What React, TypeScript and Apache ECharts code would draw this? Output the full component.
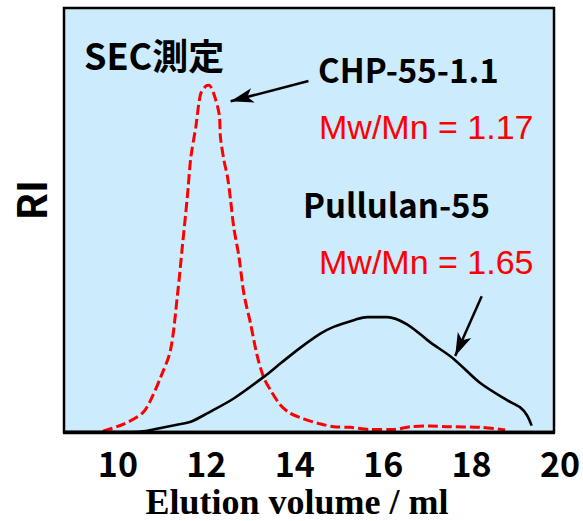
import React, { useEffect, useRef } from "react";
import * as echarts from "echarts";

// tick labels of the elution-volume axis
const xTicks = [10, 12, 14, 16, 18, 20];

// CHP-55-1.1 (red dashed) — elution volume (ml) / RI response
const chpX = [9.66, 10.14, 10.56, 10.74, 10.97, 11.19, 11.35, 11.46, 11.57, 11.65, 11.76, 11.87, 11.99, 12.06, 12.17, 12.29, 12.32, 12.4, 12.48, 12.55, 12.62, 12.74, 12.85, 13.0, 13.15, 13.3, 13.45, 13.68, 13.9, 14.2, 14.54, 14.88, 15.26, 15.71, 16.24, 16.61, 17.06, 17.44, 18.19, 18.76];
const chpY = [0.2, 1.9, 4.5, 7.5, 13.0, 19.3, 32.6, 44.0, 55.4, 64.8, 71.8, 79.7, 81.6, 81.8, 79.7, 75.0, 69.5, 64.0, 60.1, 54.6, 48.3, 41.2, 32.6, 25.6, 18.0, 12.8, 9.9, 6.3, 4.4, 3.1, 2.0, 1.25, 1.1, 0.6, 0.6, 1.25, 1.4, 1.25, 1.1, 0.5];

// Pullulan-55 (black solid)
const pulX = [8.78, 10.29, 10.67, 11.08, 11.42, 11.65, 12.02, 12.62, 13.3, 13.68, 14.13, 14.58, 14.88, 15.37, 15.64, 16.09, 16.54, 17.06, 17.59, 18.19, 18.8, 19.1, 19.25, 19.36];
const pulY = [0, 0, 0.3, 1.2, 1.9, 2.4, 4.4, 7.9, 13.0, 16.2, 19.9, 23.2, 24.8, 26.5, 27.1, 27.1, 25.4, 21.2, 17.3, 11.6, 7.5, 5.8, 4.0, 1.5];

// annotation arrows: [fromX, fromY, toX, toY] in data units
const chpArrow = [14.31, 82.8, 12.55, 78.0];
const pulArrow = [18.23, 32.0, 17.63, 17.9];

const BOLD_FONT = "'Noto Sans CJK JP', 'Noto Sans', sans-serif";
const SANS_FONT = "'Liberation Sans', Arial, sans-serif";

function arrowLine(a: number[]) {
  return [
    [
      { coord: [a[0], a[1]], symbol: "none" },
      { coord: [a[2], a[3]], symbol: "arrow", symbolSize: [11, 23] },
    ],
  ];
}

export default function App() {
  const ref = useRef<HTMLDivElement>(null);
  useEffect(() => {
    if (!ref.current) return;
    const chart = echarts.init(ref.current, undefined, { renderer: "svg" });
    const L = 64, T = 8, R = 554, B = 432;
    const option: any = {
      animation: false,
      grid: { left: L, top: T, right: 583 - 560, bottom: 521 - B },
      xAxis: {
        type: "value",
        min: 8.78,
        max: 20,
        axisLine: { show: false },
        axisTick: { show: false },
        splitLine: { show: false },
        axisLabel: {
          customValues: xTicks,
          margin: 13,
          fontSize: 34,
          fontWeight: "bold",
          fontFamily: BOLD_FONT,
          color: "#000",
        },
      },
      yAxis: {
        type: "value",
        min: 0,
        max: 100,
        axisLine: { show: false },
        axisTick: { show: false },
        axisLabel: { show: false },
        splitLine: { show: false },
      },
      graphic: [
        { type: "rect", z: -10, shape: { x: L, y: T, width: R - L, height: B - T }, style: { fill: "#CCEBFC" } },
        { type: "rect", z: 100, shape: { x: L, y: T, width: R - L, height: B - T }, style: { fill: "none", stroke: "#000", lineWidth: 2.5 } },
        { type: "line", z: 100, shape: { x1: L - 1, y1: B + 0.5, x2: R + 1, y2: B + 0.5 }, style: { stroke: "#000", lineWidth: 3.5 } },
        { type: "text", z: 100, x: 84, y: 54, style: { text: "SEC測定", fill: "#000", fontSize: 36, fontWeight: "bold", fontFamily: BOLD_FONT, align: "left", verticalAlign: "middle" } },
        { type: "text", z: 100, x: 318, y: 69, style: { text: "CHP-55-1.1", fill: "#000", fontSize: 33, fontWeight: "bold", fontFamily: BOLD_FONT, align: "left", verticalAlign: "middle" } },
        { type: "text", z: 100, x: 319, y: 127, style: { text: "Mw/Mn = 1.17", fill: "#ff0000", fontSize: 34, fontFamily: SANS_FONT, align: "left", verticalAlign: "middle" } },
        { type: "text", z: 100, x: 303, y: 204, style: { text: "Pullulan-55", fill: "#000", fontSize: 33, fontWeight: "bold", fontFamily: BOLD_FONT, align: "left", verticalAlign: "middle" } },
        { type: "text", z: 100, x: 319, y: 262, style: { text: "Mw/Mn = 1.65", fill: "#ff0000", fontSize: 34, fontFamily: SANS_FONT, align: "left", verticalAlign: "middle" } },
        { type: "text", z: 100, x: 297, y: 502, style: { text: "Elution volume / ml", fill: "#000", fontSize: 36, fontWeight: "bold", fontFamily: "'Liberation Serif', 'Times New Roman', serif", align: "center", verticalAlign: "middle" } },
        { type: "text", z: 100, x: 30, y: 200, rotation: Math.PI / 2, style: { text: "RI", fill: "#000", fontSize: 40, fontWeight: "bold", fontFamily: BOLD_FONT, align: "center", verticalAlign: "middle" } },
      ],
      series: [
        {
          name: "CHP-55-1.1",
          type: "line",
          data: chpX.map((x, i) => [x, chpY[i]]),
          showSymbol: false,
          smooth: 0.3,
          lineStyle: { color: "#ff0000", width: 3, type: [10, 4] },
          z: 3,
          markLine: {
            silent: true,
            animation: false,
            label: { show: false },
            lineStyle: { color: "#000", width: 2.5, type: "solid" },
            data: arrowLine(chpArrow),
          },
        },
        {
          name: "Pullulan-55",
          type: "line",
          data: pulX.map((x, i) => [x, pulY[i]]),
          showSymbol: false,
          smooth: 0.3,
          lineStyle: { color: "#000", width: 2.6 },
          z: 4,
          markLine: {
            silent: true,
            animation: false,
            label: { show: false },
            lineStyle: { color: "#000", width: 2.5, type: "solid" },
            data: arrowLine(pulArrow),
          },
        },
      ],
    };
    chart.setOption(option);
    return () => chart.dispose();
  }, []);
  return (
    <div
      ref={ref}
      style={{ position: "fixed", left: 0, top: 0, width: 583, height: 521, background: "#fff" }}
    />
  );
}
